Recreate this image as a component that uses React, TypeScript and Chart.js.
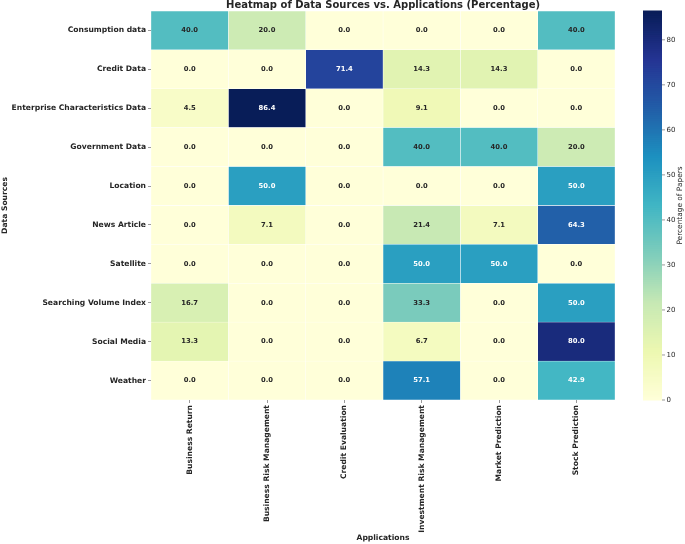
import React, { useEffect, useRef } from "react";
import { Chart, registerables } from "chart.js";

Chart.register(...registerables);

const sources = [
  "Consumption data",
  "Credit Data",
  "Enterprise Characteristics Data",
  "Government Data",
  "Location",
  "News Article",
  "Satellite",
  "Searching Volume Index",
  "Social Media",
  "Weather",
];

const applications = [
  "Business Return",
  "Business Risk Management",
  "Credit Evaluation",
  "Investment Risk Management",
  "Market Prediction",
  "Stock Prediction",
];

const consumptionData = [40.0, 20.0, 0.0, 0.0, 0.0, 40.0];
const creditData = [0.0, 0.0, 71.4, 14.3, 14.3, 0.0];
const enterpriseData = [4.5, 86.4, 0.0, 9.1, 0.0, 0.0];
const governmentData = [0.0, 0.0, 0.0, 40.0, 40.0, 20.0];
const locationData = [0.0, 50.0, 0.0, 0.0, 0.0, 50.0];
const newsData = [0.0, 7.1, 0.0, 21.4, 7.1, 64.3];
const satelliteData = [0.0, 0.0, 0.0, 50.0, 50.0, 0.0];
const searchingData = [16.7, 0.0, 0.0, 33.3, 0.0, 50.0];
const socialData = [13.3, 0.0, 0.0, 6.7, 0.0, 80.0];
const weatherData = [0.0, 0.0, 0.0, 57.1, 0.0, 42.9];

const matrix = [
  consumptionData,
  creditData,
  enterpriseData,
  governmentData,
  locationData,
  newsData,
  satelliteData,
  searchingData,
  socialData,
  weatherData,
];

const colorbarTicks = [0, 10, 20, 30, 40, 50, 60, 70, 80];

const VMIN = 0;
const VMAX = Math.max(...matrix.map((r) => Math.max(...r)));

const YLGNBU = [
  [1.0, 1.0, 0.85098],
  [0.929412, 0.972549, 0.694118],
  [0.780392, 0.913725, 0.705882],
  [0.498039, 0.803922, 0.733333],
  [0.254902, 0.713725, 0.768627],
  [0.113725, 0.568627, 0.752941],
  [0.133333, 0.368627, 0.658824],
  [0.145098, 0.203922, 0.580392],
  [0.031373, 0.113725, 0.345098],
];

function cmapRGB(v: number): number[] {
  let t = (v - VMIN) / (VMAX - VMIN);
  t = Math.max(0, Math.min(1, t));
  const pos = t * (YLGNBU.length - 1);
  const i = Math.min(Math.floor(pos), YLGNBU.length - 2);
  const f = pos - i;
  const a = YLGNBU[i];
  const b = YLGNBU[i + 1];
  return [0, 1, 2].map((k) => a[k] + (b[k] - a[k]) * f);
}

function toCss(rgb: number[]): string {
  return `rgb(${Math.round(rgb[0] * 255)},${Math.round(rgb[1] * 255)},${Math.round(rgb[2] * 255)})`;
}

function luminance(rgb: number[]): number {
  const lin = rgb.map((c) => (c <= 0.03928 ? c / 12.92 : Math.pow((c + 0.055) / 1.055, 2.4)));
  return 0.2126 * lin[0] + 0.7152 * lin[1] + 0.0722 * lin[2];
}

const TEXT = "#262626";
const FONT = "'DejaVu Sans', sans-serif";

const annotatePlugin = {
  id: "annotate",
  afterDatasetsDraw(chart: any) {
    const ctx = chart.ctx;
    ctx.save();
    ctx.font = `bold 6.8px ${FONT}`;
    ctx.textAlign = "center";
    ctx.textBaseline = "middle";
    chart.data.datasets.forEach((ds: any, j: number) => {
      const meta = chart.getDatasetMeta(j);
      meta.data.forEach((el: any, i: number) => {
        const v = matrix[i][j];
        const rgb = cmapRGB(v);
        ctx.fillStyle = luminance(rgb) > 0.408 ? TEXT : "#ffffff";
        ctx.fillText(v.toFixed(1), (el.x + el.base) / 2, el.y);
      });
    });
    ctx.restore();
  },
};

const colorbarPlugin = {
  id: "colorbar",
  afterDraw(chart: any) {
    const ctx = chart.ctx;
    const area = chart.chartArea;
    const x0 = 643;
    const w = 19;
    const top = area.top;
    const bottom = area.bottom;
    const h = bottom - top;
    ctx.save();
    const steps = 200;
    for (let s = 0; s < steps; s++) {
      const v = VMIN + ((s + 0.5) / steps) * (VMAX - VMIN);
      ctx.fillStyle = toCss(cmapRGB(v));
      const y1 = bottom - (s / steps) * h;
      const y2 = bottom - ((s + 1) / steps) * h;
      ctx.fillRect(x0, y2 - 0.5, w, y1 - y2 + 1);
    }
    ctx.strokeStyle = "#555555";
    ctx.lineWidth = 0.6;
    ctx.fillStyle = TEXT;
    ctx.font = `7px ${FONT}`;
    ctx.textAlign = "left";
    ctx.textBaseline = "middle";
    colorbarTicks.forEach((t) => {
      const y = bottom - ((t - VMIN) / (VMAX - VMIN)) * h;
      ctx.beginPath();
      ctx.moveTo(x0 + w, y);
      ctx.lineTo(x0 + w + 3, y);
      ctx.stroke();
      ctx.fillText(String(t), x0 + w + 4.5, y);
    });
    ctx.font = `7.4px ${FONT}`;
    ctx.translate(680, (top + bottom) / 2);
    ctx.rotate(-Math.PI / 2);
    ctx.textAlign = "center";
    ctx.fillText("Percentage of Papers", 0, 0);
    ctx.restore();
  },
};

export default function App() {
  const ref = useRef<HTMLCanvasElement | null>(null);

  useEffect(() => {
    if (!ref.current) return;
    const datasets = applications.map((app, j) => ({
      label: app,
      data: sources.map(() => 1),
      backgroundColor: sources.map((_, i) => toCss(cmapRGB(matrix[i][j]))),
      borderColor: "#ffffff",
      borderWidth: 0.5,
      borderSkipped: false,
      barPercentage: 1,
      categoryPercentage: 1,
    }));

    const chart = new Chart(ref.current, {
      type: "bar",
      data: { labels: sources, datasets },
      plugins: [annotatePlugin, colorbarPlugin],
      options: {
        indexAxis: "y",
        animation: false,
        responsive: true,
        maintainAspectRatio: false,
        layout: { padding: { left: 0, right: 70, top: 0, bottom: 0 } },
        plugins: {
          legend: { display: false },
          tooltip: { enabled: false },
          title: {
            display: true,
            text: "Heatmap of Data Sources vs. Applications (Percentage)",
            fullSize: false,
            color: TEXT,
            font: { family: FONT, size: 10, weight: "bold", lineHeight: 1.1 },
            padding: { top: 0, bottom: 0 },
          },
        },
        scales: {
          x: {
            type: "linear",
            stacked: true,
            min: 0,
            max: applications.length,
            afterBuildTicks: (scale: any) => {
              scale.ticks = applications.map((_, j) => ({ value: j + 0.5 }));
            },
            afterFit: (scale: any) => {
              scale.height = 144;
            },
            ticks: {
              autoSkip: false,
              minRotation: 90,
              maxRotation: 90,
              padding: 2,
              color: TEXT,
              font: { family: FONT, size: 7.6, weight: "bold" },
              callback: (v: any) => applications[Math.floor(Number(v))] ?? "",
            },
            grid: {
              display: true,
              drawOnChartArea: false,
              drawTicks: true,
              tickLength: 3,
              color: "#555555",
              lineWidth: 0.6,
            },
            border: { display: false },
            title: {
              display: true,
              text: "Applications",
              color: TEXT,
              font: { family: FONT, size: 7.6, weight: "bold" },
              padding: { top: 0, bottom: 1 },
            },
          },
          y: {
            type: "category",
            stacked: true,
            afterFit: (scale: any) => {
              scale.width = 151;
            },
            ticks: {
              autoSkip: false,
              padding: 2,
              color: TEXT,
              font: { family: FONT, size: 7.6, weight: "bold" },
            },
            grid: {
              display: true,
              drawOnChartArea: false,
              drawTicks: true,
              tickLength: 3,
              offset: false,
              color: "#555555",
              lineWidth: 0.6,
            },
            border: { display: false },
            title: {
              display: true,
              text: "Data Sources",
              color: TEXT,
              font: { family: FONT, size: 7.6, weight: "bold" },
              padding: { top: 0, bottom: 0 },
            },
          },
        },
      } as any,
    });
    return () => chart.destroy();
  }, []);

  return (
    <div style={{ position: "fixed", left: 0, top: 0, width: 685, height: 544, background: "#ffffff" }}>
      <canvas ref={ref} />
    </div>
  );
}
